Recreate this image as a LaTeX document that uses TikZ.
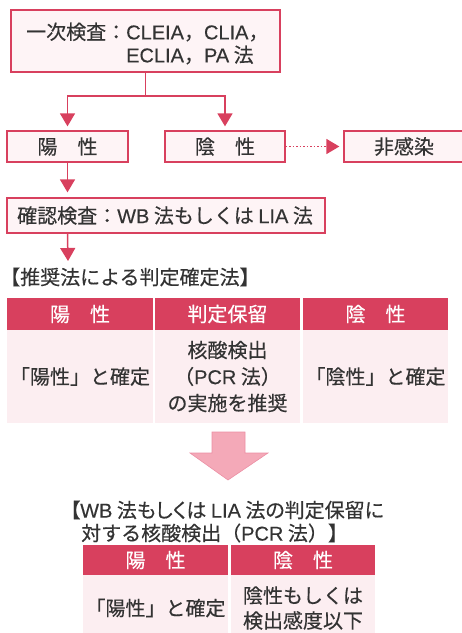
\documentclass[tikz,border=0pt]{standalone}
\usepackage{fontspec}
\setmainfont{Noto Sans CJK JP}[FakeBold=0.4]
\newfontfamily\pfont{Noto Sans CJK JP}[RawFeature=+palt, FakeBold=0.4]
\newfontfamily\lat{Liberation Sans}[FakeBold=0.3]
\newcommand\la[1]{{\lat #1}}
\usetikzlibrary{arrows.meta}
\definecolor{crim}{HTML}{D8405E}
\definecolor{boxfill}{HTML}{FEF4F6}
\definecolor{bodyfill}{HTML}{FCEEF1}
\definecolor{txt}{HTML}{333333}
\definecolor{bigarrow}{HTML}{F4A9B8}
\definecolor{bigarrowline}{HTML}{EC8FA4}
\tikzset{
  box/.style={draw=crim, fill=boxfill, line width=1.3pt, inner sep=0pt, rectangle},
  hdr/.style={fill=crim, text=white, inner sep=0pt, rectangle},
  bodycell/.style={fill=bodyfill, inner sep=0pt, rectangle, align=center},
  conn/.style={draw=crim, line width=1.5pt},
  tip/.style={-{Triangle[width=15pt,length=13pt]}},
  plain/.style={inner sep=0pt, text=txt}
}
\begin{document}
\begin{tikzpicture}[x=1pt,y=-1pt, font=\fontsize{20}{23}\selectfont, text=txt]
\useasboundingbox (0,0) rectangle (462,633);

% top flowchart
\node[box, minimum width=269pt, minimum height=62pt] (top) at (145.5,41) {};
\node[plain, anchor=west, align=left] (toptxt) at (26,43.5)
  {一次検査：\la{CLEIA}，\la{CLIA}，\\\phantom{一次検査：}\la{ECLIA}，\la{PA} 法};

\node[box, minimum width=121pt, minimum height=31pt] (pos1) at (67.5,146.5) {陽　性};
\node[box, minimum width=120pt, minimum height=31pt] (neg1) at (225,146.5) {陰　性};
\node[box, minimum width=120pt, minimum height=31pt] (noinf) at (404,146.5) {非感染};

\coordinate (split) at (146,96);
\draw[conn] (top.south) -- (top.south |- split);
\draw[conn, tip, shorten >=4pt] (top.south |- split) -| (pos1.north);
\draw[conn, tip, shorten >=4pt] (top.south |- split) -| (neg1.north);
\draw[conn, dash pattern=on 1.6pt off 1.9pt, line width=1.6pt, tip, shorten >=4pt] (neg1.east) -- (noinf.west);

\node[box, minimum width=318pt, minimum height=35pt] (conf) at (166,215.5) {};
\node[plain, anchor=west] (conftxt) at (17,215.5) {確認検査：\la{WB} 法もしくは \la{LIA} 法};
\draw[conn, tip, shorten >=5pt] (pos1.south) -- (pos1.south |- conf.north);
\coordinate (c1) at (68,261);
\draw[conn, tip] (pos1.south |- conf.south) -- (c1);

% first table
\node[plain, anchor=west] (title1) at (0,277) {【推奨法による判定確定法】};
\node[hdr, minimum width=146pt, minimum height=32pt] (h1) at (80,314) {陽　性};
\node[hdr, minimum width=145pt, minimum height=32pt] (h2) at (227.5,314) {判定保留};
\node[hdr, minimum width=145pt, minimum height=32pt] (h3) at (375.5,314) {陰　性};
\node[bodycell, minimum width=146pt, minimum height=93pt] (b1) at (80,376.5) {「陽性」と確定};
\node[bodycell, minimum width=145pt, minimum height=93pt, font=\fontsize{20}{26.5}\selectfont] (b2) at (227.5,376.5) {核酸検出\\（\la{PCR} 法）\\の実施を推奨};
\node[bodycell, minimum width=145pt, minimum height=93pt] (b3) at (375.5,376.5) {「陰性」と確定};

% big arrow
\filldraw[fill=bigarrow, draw=bigarrowline, line width=0.6pt]
  (212,432) -- (245,432) -- (245,453) -- (268,453) -- (228,480) -- (190,453) -- (212,453) -- cycle;

% second table
\node[plain, anchor=west] (title2a) at (70,510) {\pfont 【\la{WB} 法もしくは \la{LIA} 法の判定保留に};
\node[plain, anchor=west] (title2b) at (81,533) {対する核酸検出（\la{PCR} 法）】};
\node[hdr, minimum width=145pt, minimum height=30pt] (k1) at (155.5,560) {陽　性};
\node[hdr, minimum width=144pt, minimum height=30pt] (k2) at (303,560) {陰　性};
\node[bodycell, minimum width=145pt, minimum height=66pt] (m1) at (155.5,608) {「陽性」と確定};
\node[bodycell, minimum width=144pt, minimum height=66pt, font=\fontsize{20}{25}\selectfont] (m2) at (303,608) {陰性もしくは\\検出感度以下};
\end{tikzpicture}
\end{document}
